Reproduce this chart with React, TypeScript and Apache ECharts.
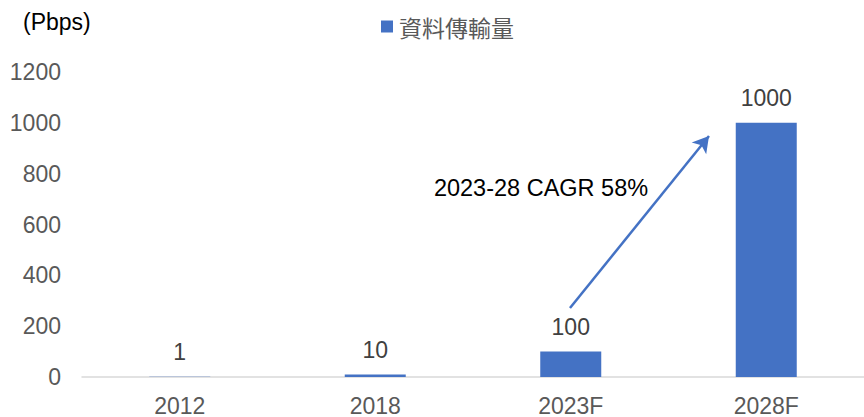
import React, { useEffect, useRef } from "react";
import * as echarts from "echarts";

const categories = ["2012", "2018", "2023F", "2028F"];
const values = [1, 10, 100, 1000];
const seriesName = "資料傳輸量";
const unitLabel = "(Pbps)";
const annotationText = "2023-28 CAGR 58%";

export default function App() {
  const ref = useRef<HTMLDivElement>(null);
  useEffect(() => {
    if (!ref.current) return;
    const chart = echarts.init(ref.current, null, { renderer: "svg" });
    const font = "Liberation Sans, Arial, sans-serif";
    chart.setOption({
      animation: false,
      backgroundColor: "#ffffff",
      textStyle: { fontFamily: font },
      legend: {
        show: true,
        left: 376,
        top: 10,
        itemWidth: 12,
        itemHeight: 12,
        itemGap: 6,
        icon: "rect",
        data: [seriesName],
        textStyle: {
          fontFamily: "Noto Sans CJK TC, serif",
          fontSize: 23,
          color: "#595959",
          padding: [0, 0, 0, 1],
        },
      },
      grid: { left: 82, top: 72, width: 786, height: 306.5, containLabel: false },
      xAxis: {
        type: "category",
        data: categories,
        axisTick: { show: false },
        axisLine: { lineStyle: { color: "#D9D9D9", width: 1.5 } },
        axisLabel: { color: "#595959", fontSize: 23, margin: 17, fontFamily: font },
      },
      yAxis: {
        type: "value",
        min: 0,
        max: 1200,
        interval: 200,
        splitLine: { show: false },
        axisLine: { show: false },
        axisTick: { show: false },
        axisLabel: {
          color: "#595959",
          fontSize: 23,
          margin: 21,
          fontFamily: font,
          formatter: (v: number) => String(v),
        },
      },
      series: [
        {
          name: seriesName,
          type: "bar",
          data: values,
          barWidth: 61,
          itemStyle: { color: "#4472C4" },
          label: {
            show: true,
            position: "top",
            distance: 13,
            color: "#404040",
            fontSize: 23,
            fontFamily: font,
          },
          markLine: {
            silent: true,
            symbol: ["none", "arrow"],
            symbolSize: [14, 16],
            label: { show: false },
            lineStyle: { color: "#4472C4", width: 2.5, type: "solid" },
            data: [[{ x: 570, y: 308 }, { x: 709, y: 136 }]],
          },
        },
      ],
      graphic: [
        {
          type: "text",
          left: 23,
          top: 10,
          style: { text: unitLabel, fontSize: 23, fill: "#000000", fontFamily: font },
        },
        {
          type: "text",
          x: 541,
          y: 188,
          style: {
            text: annotationText,
            fontSize: 23.5,
            fill: "#000000",
            fontFamily: font,
            align: "center",
            verticalAlign: "middle",
          },
        },
      ],
    });
    return () => chart.dispose();
  }, []);
  return (
    <div
      ref={ref}
      style={{ position: "fixed", left: 0, top: 0, width: 864, height: 417 }}
    />
  );
}
